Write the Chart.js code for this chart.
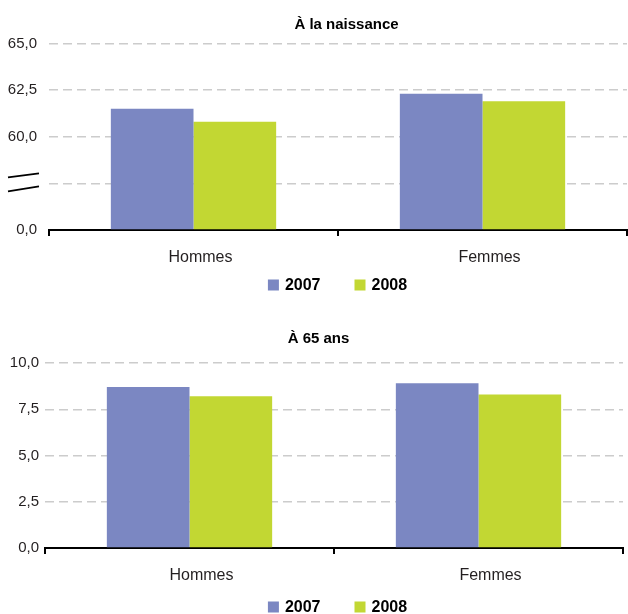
<!DOCTYPE html>
<html lang="fr">
<head>
<meta charset="utf-8">
<title>Espérance de vie</title>
<script src="https://cdn.jsdelivr.net/npm/chart.js@4.4.1/dist/chart.umd.min.js"></script>
<style>
  html, body { margin: 0; padding: 0; background: #fff; overflow: hidden; }
  canvas { display: block; }
</style>
</head>
<body>
<canvas id="naissance" width="628" height="307"></canvas>
<canvas id="ans65" width="628" height="320"></canvas>
<script>
// Categories and series
const categories = ['Hommes', 'Femmes'];
const years = ['2007', '2008'];

// Life expectancy at birth (years)
const birth2007 = [61.5, 62.3];
const birth2008 = [60.8, 61.9];

// Life expectancy at 65 (years)
const at65_2007 = [8.7, 8.9];
const at65_2008 = [8.2, 8.3];

// Tick values and labels; the birth axis is cut between 0 and 60
const birthTickValues = [55, 57.5, 60, 62.5, 65];
const birthTickLabels = ['0,0', '', '60,0', '62,5', '65,0'];
const at65TickValues = [0, 2.5, 5, 7.5, 10];
const at65TickLabels = ['0,0', '2,5', '5,0', '7,5', '10,0'];

const seriesColors = ['#7b87c2', '#c2d733'];
const FONT = "'Liberation Sans', Arial, sans-serif";
const TEXT = '#231f20';

// Panel heading drawn at a given position
const panelTitle = {
  id: 'panelTitle',
  afterDraw(chart, args, opts) {
    if (!opts || !opts.text) return;
    const ctx = chart.ctx;
    ctx.save();
    ctx.font = 'bold 15px ' + FONT;
    ctx.fillStyle = '#000';
    ctx.textAlign = 'center';
    ctx.textBaseline = 'alphabetic';
    ctx.fillText(opts.text, opts.x, opts.y);
    ctx.restore();
  }
};

// Two slanted strokes marking the cut in the value axis
const axisBreak = {
  id: 'axisBreak',
  afterDraw(chart, args, opts) {
    if (!opts || opts.value === undefined || opts.value === null) return;
    const ctx = chart.ctx;
    const y = chart.scales.y.getPixelForValue(opts.value);
    const x1 = chart.chartArea.left - 41;
    const x2 = chart.chartArea.left - 10;
    ctx.save();
    ctx.strokeStyle = '#000';
    ctx.lineWidth = 1.8;
    ctx.beginPath();
    ctx.moveTo(x1, y - 6);
    ctx.lineTo(x2, y - 10);
    ctx.moveTo(x1, y + 8);
    ctx.lineTo(x2, y + 3);
    ctx.stroke();
    ctx.restore();
  }
};

// Series key (coloured square + bold year) built from the datasets
const seriesKey = {
  id: 'seriesKey',
  afterDraw(chart, args, opts) {
    if (!opts || opts.cx === undefined) return;
    const ctx = chart.ctx;
    const box = 11, textGap = 6, itemGap = 34;
    ctx.save();
    ctx.font = 'bold 16px ' + FONT;
    ctx.textBaseline = 'middle';
    ctx.textAlign = 'left';
    const items = chart.data.datasets.map(ds => ({
      label: ds.label, color: ds.backgroundColor, w: box + textGap + ctx.measureText(ds.label).width
    }));
    const total = items.reduce((s, it) => s + it.w, 0) + itemGap * (items.length - 1);
    let x = opts.cx - total / 2;
    items.forEach(it => {
      ctx.fillStyle = it.color;
      ctx.fillRect(x, opts.y - box / 2, box, box);
      ctx.fillStyle = '#000';
      ctx.fillText(it.label, x + box + textGap, opts.y + 1);
      x += it.w + itemGap;
    });
    ctx.restore();
  }
};

function buildPanel(id, d2007, d2008, tickValues, tickLabels, o) {
  const axisMin = tickValues[0];
  const axisMax = tickValues[tickValues.length - 1];
  return new Chart(document.getElementById(id), {
    type: 'bar',
    data: {
      labels: categories,
      datasets: [
        { label: years[0], data: d2007, backgroundColor: seriesColors[0], base: axisMin },
        { label: years[1], data: d2008, backgroundColor: seriesColors[1], base: axisMin }
      ]
    },
    options: {
      responsive: false,
      animation: false,
      layout: { padding: o.padding },
      datasets: { bar: { categoryPercentage: 0.572, barPercentage: 1, borderWidth: 0 } },
      scales: {
        x: {
          grid: { drawOnChartArea: false, drawTicks: true, tickLength: 6, tickWidth: 2, tickColor: '#000', lineWidth: 2 },
          border: { display: true, color: '#000', width: 2 },
          ticks: { color: TEXT, font: { size: 16, family: FONT }, padding: 12, labelOffset: o.labelOffset },
          afterFit(s) { s.height = o.xHeight; }
        },
        y: {
          min: axisMin,
          max: axisMax,
          afterBuildTicks(s) { s.ticks = tickValues.map(v => ({ value: v })); },
          ticks: {
            callback: (v, i) => tickLabels[i],
            padding: o.yPad,
            color: TEXT,
            font: { size: 15, family: FONT }
          },
          grid: {
            color: c => (c.tick && c.tick.value === axisMin) ? 'rgba(0,0,0,0)' : '#cccccc',
            lineWidth: 1.5,
            drawTicks: false
          },
          border: { display: false, dash: [9, 5] },
          afterFit(s) { s.width = o.yWidth; }
        }
      },
      plugins: {
        legend: { display: false },
        tooltip: { enabled: false },
        panelTitle: o.title,
        axisBreak: { value: o.breakAt },
        seriesKey: o.key
      }
    },
    plugins: [panelTitle, axisBreak, seriesKey]
  });
}

buildPanel('naissance', birth2007, birth2008, birthTickValues, birthTickLabels, {
  padding: { top: 43.5, right: 1, bottom: 37, left: 0 },
  yWidth: 49, yPad: 12, xHeight: 40, labelOffset: 7,
  title: { text: 'À la naissance', x: 346.5, y: 29 },
  breakAt: birthTickValues[1],
  key: { cx: 337.5, y: 285 }
});

buildPanel('ans65', at65_2007, at65_2008, at65TickValues, at65TickLabels, {
  padding: { top: 56, right: 5, bottom: 39, left: 0 },
  yWidth: 45, yPad: 6, xHeight: 40, labelOffset: 12,
  title: { text: 'À 65 ans', x: 318.5, y: 36 },
  breakAt: null,
  key: { cx: 337.5, y: 300 }
});
</script>
</body>
</html>
